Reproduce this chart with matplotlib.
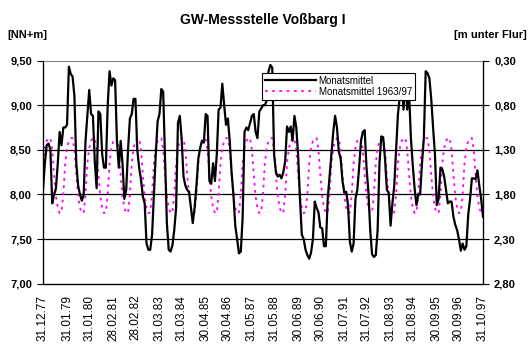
import numpy as np
import pandas as pd
import matplotlib
matplotlib.use("Agg")
import matplotlib.pyplot as plt
from matplotlib.ticker import FuncFormatter

plt.rcParams['font.family'] = ['Liberation Sans', 'DejaVu Sans']

# Monatsmittel Grundwasserstand [NN+m], Dez 1977 - Okt 1997 (je Zeile 12 Monate ab Dezember)
monatsmittel = [
    8.05, 8.35, 8.55, 8.57, 8.50, 7.90, 8.00, 8.07, 8.35, 8.70, 8.55, 8.75,
    8.75, 8.78, 9.43, 9.35, 9.32, 9.10, 8.35, 8.10, 8.00, 7.93, 8.00, 8.60,
    8.88, 9.17, 8.90, 8.88, 8.37, 8.07, 8.93, 8.90, 8.45, 8.30, 8.30, 9.00,
    9.38, 9.22, 9.30, 9.28, 8.60, 8.30, 8.60, 8.35, 7.95, 8.05, 8.50, 8.85,
    8.90, 9.07, 9.07, 8.50, 8.30, 8.17, 7.98, 7.90, 7.45, 7.38, 7.38, 7.55,
    8.00, 8.45, 8.82, 8.90, 9.18, 9.15, 8.40, 7.68, 7.38, 7.36, 7.43, 7.60,
    7.85, 8.80, 8.88, 8.62, 8.20, 8.10, 8.05, 8.03, 7.85, 7.68, 7.85, 8.10,
    8.40, 8.52, 8.60, 8.58, 8.90, 8.88, 8.15, 8.12, 8.35, 8.15, 8.45, 8.95,
    8.97, 9.24, 9.00, 8.78, 8.85, 8.60, 8.25, 8.00, 7.65, 7.50, 7.34, 7.36,
    7.75, 8.70, 8.75, 8.72, 8.80, 8.88, 8.90, 8.70, 8.63, 8.93, 8.96, 9.00,
    9.00, 9.05, 9.38, 9.45, 9.42, 8.45, 8.25, 8.20, 8.22, 8.18, 8.25, 8.37,
    8.76, 8.70, 8.76, 8.60, 8.88, 8.75, 8.44, 7.95, 7.55, 7.50, 7.38, 7.32,
    7.28, 7.35, 7.50, 7.92, 7.85, 7.80, 7.63, 7.62, 7.42, 7.42, 7.95, 8.20,
    8.44, 8.70, 8.88, 8.75, 8.48, 8.40, 8.15, 8.02, 8.03, 7.88, 7.47, 7.36,
    7.45, 7.95, 8.05, 8.30, 8.60, 8.70, 8.72, 8.30, 8.03, 7.60, 7.33, 7.30,
    7.32, 7.60, 8.35, 8.65, 8.64, 8.40, 8.05, 8.02, 7.65, 7.90, 8.10, 8.50,
    8.90, 9.10, 9.34, 8.95, 9.34, 8.95, 9.15, 8.63, 8.33, 8.07, 7.88, 8.00,
    8.00, 8.35, 8.63, 9.38, 9.36, 9.30, 9.07, 8.75, 8.45, 7.88, 7.95, 8.30,
    8.28, 8.20, 8.05, 7.90, 7.92, 7.92, 7.75, 7.66, 7.60, 7.50, 7.37, 7.45,
    7.38, 7.42, 7.77, 7.95, 8.18, 8.18, 8.17, 8.27, 8.10, 7.95, 7.75,
]

# langjaehriges Monatsmittel 1963/97, Dez ... Nov
mittel_1963_97 = [8.35, 8.52, 8.60, 8.63, 8.63, 8.50, 8.22, 7.98, 7.85, 7.79, 7.80, 8.00]

tick_dates = ["31.12.77", "31.01.79", "31.01.80", "28.02.81", "28.02.82",
              "31.03.83", "31.03.84", "30.04.85", "30.04.86", "31.05.87",
              "31.05.88", "30.06.89", "30.06.90", "31.07.91", "31.07.92",
              "31.08.93", "31.08.94", "30.09.95", "30.09.96", "31.10.97"]

dates = pd.date_range("1977-12-31", periods=len(monatsmittel), freq="ME")
x = np.arange(len(dates))
mittel = np.resize(mittel_1963_97, len(dates))
tick_pos = [dates.get_loc(pd.to_datetime(d, format="%d.%m.%y")) for d in tick_dates]

fig = plt.figure(figsize=(5.32, 3.53), dpi=100)
ax = fig.add_axes([43/532, 1 - 283.7/353, 440/532, 223.2/353])

ax.plot(x, monatsmittel, color="black", lw=1.6, label="Monatsmittel", zorder=3)
ax.plot(x, mittel, color="#FF00FF", lw=1.3, ls=(0, (1.5, 2.5)),
        label="Monatsmittel 1963/97", zorder=2)

ax.set_xlim(0, len(x) - 1)
ax.set_ylim(7.0, 9.5)
ax.set_yticks([7.0, 7.5, 8.0, 8.5, 9.0, 9.5])
ax.yaxis.set_major_formatter(FuncFormatter(lambda v, p: f"{v:.2f}".replace(".", ",")))
for v in [7.5, 8.0, 8.5, 9.0]:
    ax.axhline(v, color="black", lw=0.9, zorder=1)

ax.set_xticks(tick_pos)
ax.set_xticklabels(tick_dates, rotation=90, fontsize=8.5)
ax.tick_params(axis="x", length=0, pad=8)
ax.tick_params(axis="y", length=4, width=0.8, labelsize=8, pad=4)
for lab in ax.get_yticklabels():
    lab.set_fontweight("bold")

ax.spines["top"].set_color("#808080")
ax.spines["left"].set_linewidth(0.9)
ax.spines["bottom"].set_linewidth(0.9)
ax.spines["right"].set_linewidth(0.9)

ax2 = ax.twinx()
ax2.set_ylim(2.8, 0.3)
ax2.set_yticks([0.3, 0.8, 1.3, 1.8, 2.3, 2.8])
ax2.yaxis.set_major_formatter(FuncFormatter(lambda v, p: f"{v:.2f}".replace(".", ",")))
ax2.tick_params(axis="y", length=4, width=0.8, labelsize=8, pad=4)
for lab in ax2.get_yticklabels():
    lab.set_fontweight("bold")
ax2.spines["top"].set_visible(False)

leg = ax2.legend(*ax.get_legend_handles_labels(), loc="upper left",
                 bbox_to_anchor=(0.498, 0.945), fontsize=7, frameon=True,
                 fancybox=False, edgecolor="black", framealpha=1,
                 handlelength=5.2, borderpad=0.3, labelspacing=0.1,
                 handletextpad=0.3, borderaxespad=0)
leg.get_frame().set_linewidth(0.8)

fig.text(0.493, 1 - 20/353, "GW-Messstelle Voßbarg I", ha="center", va="center",
         fontsize=10, fontweight="bold")
fig.text(7/532, 1 - 35/353, "[NN+m]", ha="left", va="center", fontsize=8, fontweight="bold")
fig.text(527/532, 1 - 35/353, "[m unter Flur]", ha="right", va="center",
         fontsize=8, fontweight="bold")

fig.savefig("out.png", dpi=100)
